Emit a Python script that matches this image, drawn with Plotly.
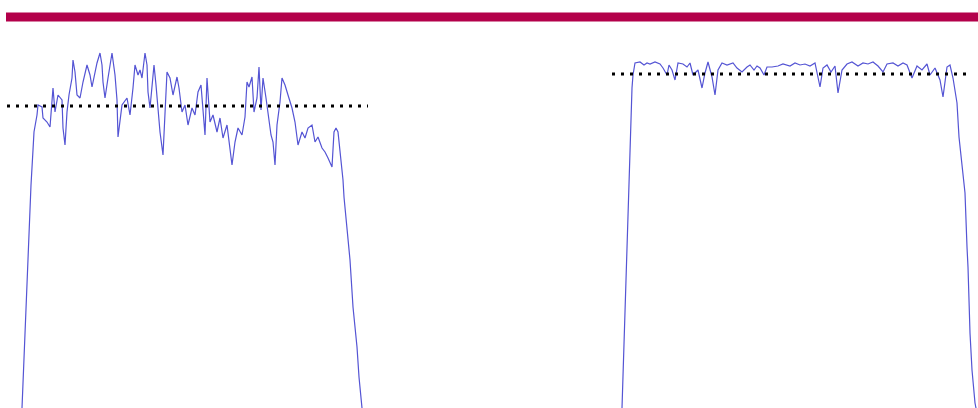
import plotly.graph_objects as go

# Left pulse: sample positions and signal levels
left_x = [22, 25, 28, 31, 33, 34, 37, 38, 42, 43,
          47, 50, 53, 55, 58, 62, 63, 65, 67, 69,
          72, 73, 75, 77, 80, 83, 87, 90, 92, 95,
          97, 100, 102, 103, 105, 108, 112, 115, 117, 118,
          122, 127, 130, 133, 135, 138, 140, 142, 145, 147,
          148, 150, 152, 154, 156, 158, 160, 163, 165, 167,
          170, 173, 177, 179, 182, 185, 188, 192, 195, 198,
          201, 203, 205, 207, 210, 213, 217, 220, 223, 227,
          230, 232, 235, 238, 242, 245, 247, 249, 252, 254,
          257, 259, 261, 263, 266, 268, 271, 273, 275, 277,
          280, 282, 285, 288, 292, 295, 298, 302, 305, 308,
          312, 315, 318, 322, 325, 328, 332, 334, 336, 338,
          341, 343, 344, 347, 350, 353, 357, 359, 362]
left_level = [0, 78, 153, 223, 258, 276, 293, 303, 301, 290,
              286, 281, 320, 296, 313, 308, 280, 263, 296, 313,
              330, 348, 336, 313, 310, 326, 343, 333, 321, 336,
              345, 355, 343, 326, 310, 330, 355, 333, 308, 271,
              303, 310, 293, 320, 343, 333, 338, 330, 355, 343,
              316, 300, 320, 343, 323, 296, 276, 253, 296, 336,
              330, 313, 331, 320, 296, 303, 283, 300, 293, 316,
              323, 296, 273, 330, 286, 293, 276, 290, 270, 283,
              258, 243, 266, 280, 273, 291, 326, 321, 331, 296,
              310, 341, 298, 330, 310, 293, 273, 266, 243, 283,
              306, 330, 323, 313, 300, 286, 263, 276, 270, 280,
              283, 266, 271, 260, 256, 250, 241, 276, 280, 276,
              250, 228, 211, 175, 148, 101, 61, 31, 0]

# Right pulse
right_x = [622, 625, 628, 630, 632, 633, 635, 640, 644,
           647, 650, 655, 660, 663, 667, 669, 672, 675, 678,
           683, 687, 690, 693, 698, 702, 705, 708, 712, 715,
           718, 722, 727, 733, 737, 742, 747, 750, 754, 757,
           760, 764, 767, 772, 778, 783, 790, 795, 800, 805,
           810, 815, 820, 823, 827, 831, 835, 838, 842, 847,
           852, 858, 863, 868, 873, 878, 883, 887, 893, 898,
           903, 907, 912, 917, 922, 927, 930, 935, 940, 943,
           947, 950, 953, 957, 959, 962, 965, 967, 968, 970,
           972, 975, 976]
right_level = [0, 100, 200, 270, 320, 333, 345, 346, 343,
               345, 344, 346, 344, 340, 333, 343, 338, 328, 345,
               344, 341, 345, 333, 338, 320, 335, 346, 331, 313,
               338, 345, 343, 345, 340, 336, 341, 343, 338, 342,
               340, 333, 341, 341, 342, 344, 342, 345, 343, 344,
               342, 345, 321, 340, 343, 336, 342, 315, 338, 344,
               346, 342, 345, 344, 346, 342, 336, 344, 345, 342,
               345, 343, 330, 342, 338, 344, 333, 340, 328, 311,
               341, 343, 330, 305, 271, 245, 215, 161, 141, 75,
               38, 5, 0]

# Mean levels shown as dotted reference lines
left_mean_x = [7, 368]
left_mean = [302, 302]
right_mean_x = [612, 970]
right_mean = [334, 334]

# Header band
band_x = [6, 978]
band_level = [386.5, 395.5]

SIGNAL_COLOR = "rgb(84,84,212)"

fig = go.Figure()
for xs, ys in ((left_x, left_level), (right_x, right_level)):
    fig.add_trace(go.Scatter(x=xs, y=ys, mode="lines",
                             line=dict(color=SIGNAL_COLOR, width=1.2),
                             hoverinfo="skip", showlegend=False))
for xs, ys in ((left_mean_x, left_mean), (right_mean_x, right_mean)):
    fig.add_trace(go.Scatter(x=xs, y=ys, mode="lines",
                             line=dict(color="black", width=3, dash="3px,6px"),
                             hoverinfo="skip", showlegend=False))

fig.add_shape(type="rect", x0=band_x[0], x1=band_x[1],
              y0=band_level[0], y1=band_level[1],
              fillcolor="#b3004a", line=dict(width=0), layer="above")

fig.update_layout(
    width=978, height=408,
    margin=dict(l=0, r=0, t=0, b=0),
    paper_bgcolor="white", plot_bgcolor="white",
    xaxis=dict(range=[0, 978], visible=False, fixedrange=True),
    yaxis=dict(range=[0, 408], visible=False, fixedrange=True),
    showlegend=False,
)

fig.write_html("out.html", config={"displayModeBar": False})
